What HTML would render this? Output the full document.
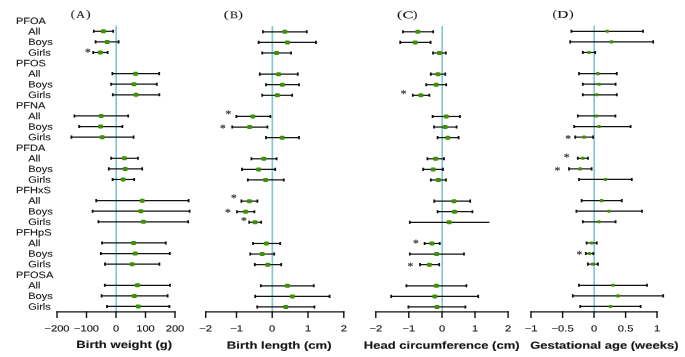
<!DOCTYPE html>
<html lang="en"><head><meta charset="utf-8"><title>Forest plot</title>
<style>html,body{margin:0;padding:0;background:#fff}svg{display:block;will-change:transform;opacity:.999}text{text-rendering:geometricPrecision}.s{font-family:"Liberation Sans",Arial,Helvetica,sans-serif;fill:#151515}.k{stroke:#151515;stroke-width:.11px}.r{font-family:"Liberation Serif","Times New Roman",serif;fill:#151515}</style></head><body>
<svg width="685" height="357" viewBox="0 0 685 357">
<rect width="685" height="357" fill="#fff"/>
<text class="s k" font-size="9.2" transform="translate(15.95,23.90) rotate(0.03) scale(1.2,1)">PFOA</text>
<text class="s k" font-size="9.2" transform="translate(28.15,34.48) rotate(0.03) scale(1.2,1)">All</text>
<text class="s k" font-size="9.2" transform="translate(28.15,45.07) rotate(0.03) scale(1.2,1)">Boys</text>
<text class="s k" font-size="9.2" transform="translate(28.15,55.65) rotate(0.03) scale(1.2,1)">Girls</text>
<text class="s k" font-size="9.2" transform="translate(15.95,66.23) rotate(0.03) scale(1.2,1)">PFOS</text>
<text class="s k" font-size="9.2" transform="translate(28.15,76.81) rotate(0.03) scale(1.2,1)">All</text>
<text class="s k" font-size="9.2" transform="translate(28.15,87.40) rotate(0.03) scale(1.2,1)">Boys</text>
<text class="s k" font-size="9.2" transform="translate(28.15,97.98) rotate(0.03) scale(1.2,1)">Girls</text>
<text class="s k" font-size="9.2" transform="translate(15.95,108.56) rotate(0.03) scale(1.2,1)">PFNA</text>
<text class="s k" font-size="9.2" transform="translate(28.15,119.15) rotate(0.03) scale(1.2,1)">All</text>
<text class="s k" font-size="9.2" transform="translate(28.15,129.73) rotate(0.03) scale(1.2,1)">Boys</text>
<text class="s k" font-size="9.2" transform="translate(28.15,140.31) rotate(0.03) scale(1.2,1)">Girls</text>
<text class="s k" font-size="9.2" transform="translate(15.95,150.90) rotate(0.03) scale(1.2,1)">PFDA</text>
<text class="s k" font-size="9.2" transform="translate(28.15,161.48) rotate(0.03) scale(1.2,1)">All</text>
<text class="s k" font-size="9.2" transform="translate(28.15,172.06) rotate(0.03) scale(1.2,1)">Boys</text>
<text class="s k" font-size="9.2" transform="translate(28.15,182.65) rotate(0.03) scale(1.2,1)">Girls</text>
<text class="s k" font-size="9.2" transform="translate(15.95,193.23) rotate(0.03) scale(1.2,1)">PFHxS</text>
<text class="s k" font-size="9.2" transform="translate(28.15,203.81) rotate(0.03) scale(1.2,1)">All</text>
<text class="s k" font-size="9.2" transform="translate(28.15,214.39) rotate(0.03) scale(1.2,1)">Boys</text>
<text class="s k" font-size="9.2" transform="translate(28.15,224.98) rotate(0.03) scale(1.2,1)">Girls</text>
<text class="s k" font-size="9.2" transform="translate(15.95,235.56) rotate(0.03) scale(1.2,1)">PFHpS</text>
<text class="s k" font-size="9.2" transform="translate(28.15,246.14) rotate(0.03) scale(1.2,1)">All</text>
<text class="s k" font-size="9.2" transform="translate(28.15,256.73) rotate(0.03) scale(1.2,1)">Boys</text>
<text class="s k" font-size="9.2" transform="translate(28.15,267.31) rotate(0.03) scale(1.2,1)">Girls</text>
<text class="s k" font-size="9.2" transform="translate(15.95,277.89) rotate(0.03) scale(1.2,1)">PFOSA</text>
<text class="s k" font-size="9.2" transform="translate(28.15,288.47) rotate(0.03) scale(1.2,1)">All</text>
<text class="s k" font-size="9.2" transform="translate(28.15,299.06) rotate(0.03) scale(1.2,1)">Boys</text>
<text class="s k" font-size="9.2" transform="translate(28.15,309.64) rotate(0.03) scale(1.2,1)">Girls</text>
<text class="r" font-size="10.80" stroke="#151515" stroke-width="0.08" transform="translate(70.69,17.51) rotate(0.03) scale(1.162,1)">(</text>
<text class="r" font-size="10.30" stroke="#151515" stroke-width="0.12" transform="translate(76.28,17.85) rotate(0.03) scale(1.156,1)">A</text>
<text class="r" font-size="10.80" stroke="#151515" stroke-width="0.08" transform="translate(85.90,17.51) rotate(0.03) scale(1.295,1)">)</text>
<text class="r" font-size="10.80" stroke="#151515" stroke-width="0.08" transform="translate(223.78,17.91) rotate(0.03) scale(1.380,1)">(</text>
<text class="r" font-size="10.34" stroke="#151515" stroke-width="0.12" transform="translate(229.94,18.22) rotate(0.03) scale(1.152,1)">B</text>
<text class="r" font-size="10.80" stroke="#151515" stroke-width="0.08" transform="translate(238.30,17.91) rotate(0.03) scale(1.295,1)">)</text>
<text class="r" font-size="10.80" stroke="#151515" stroke-width="0.08" transform="translate(397.06,17.91) rotate(0.03) scale(1.416,1)">(</text>
<text class="r" font-size="10.11" stroke="#151515" stroke-width="0.12" transform="translate(402.44,18.15) rotate(0.03) scale(1.641,1)">C</text>
<text class="r" font-size="10.80" stroke="#151515" stroke-width="0.08" transform="translate(413.12,17.91) rotate(0.03) scale(1.223,1)">)</text>
<text class="r" font-size="10.80" stroke="#151515" stroke-width="0.08" transform="translate(552.55,17.51) rotate(0.03) scale(1.235,1)">(</text>
<text class="r" font-size="10.34" stroke="#151515" stroke-width="0.12" transform="translate(557.24,17.82) rotate(0.03) scale(1.482,1)">D</text>
<text class="r" font-size="10.80" stroke="#151515" stroke-width="0.08" transform="translate(569.00,17.51) rotate(0.03) scale(1.295,1)">)</text>
<line x1="116.2" y1="25.5" x2="116.2" y2="311.8" stroke="#88c7d2" stroke-width="1.7"/>
<path d="M56.4 311.8H175.6" stroke="#111" stroke-width="1.3" fill="none"/>
<path d="M57.0 311.3V317.90000000000003M86.5 311.3V317.90000000000003M116.0 311.3V317.90000000000003M145.5 311.3V317.90000000000003M175.0 311.3V317.90000000000003" stroke="#111" stroke-width="1.4" fill="none"/>
<text class="s k" font-size="9.0" text-anchor="middle" transform="translate(57.0,331.4) rotate(0.03) scale(1.24,1)">−200</text>
<text class="s k" font-size="9.0" text-anchor="middle" transform="translate(86.5,331.4) rotate(0.03) scale(1.24,1)">−100</text>
<text class="s k" font-size="9.0" text-anchor="middle" transform="translate(116.0,331.4) rotate(0.03) scale(1.24,1)">0</text>
<text class="s k" font-size="9.0" text-anchor="middle" transform="translate(145.5,331.4) rotate(0.03) scale(1.24,1)">100</text>
<text class="s k" font-size="9.0" text-anchor="middle" transform="translate(175.0,331.4) rotate(0.03) scale(1.24,1)">200</text>
<text class="s" font-size="10.4" font-weight="bold" stroke="#151515" stroke-width="0.12" transform="translate(76.37,347.90) rotate(0.03) scale(1.257,1)">Birth weight (g)</text>
<path d="M93.8 31.30H113.2" stroke="#111" stroke-width="1.2" fill="none"/>
<path d="M93.80 29.75V32.85M113.20 29.75V32.85" stroke="#111" stroke-width="1.8" fill="none"/>
<rect x="100.95" y="29.30" width="4.9" height="4.0" rx="1.0" fill="#3d9305"/>
<path d="M95.6 41.88H118.6" stroke="#111" stroke-width="1.2" fill="none"/>
<path d="M95.60 40.33V43.43M118.60 40.33V43.43" stroke="#111" stroke-width="1.8" fill="none"/>
<rect x="104.75" y="39.88" width="4.9" height="4.0" rx="1.0" fill="#3d9305"/>
<path d="M93.2 52.47H107.6" stroke="#111" stroke-width="1.2" fill="none"/>
<path d="M93.20 50.92V54.02M107.60 50.92V54.02" stroke="#111" stroke-width="1.8" fill="none"/>
<rect x="97.95" y="50.47" width="4.9" height="4.0" rx="1.0" fill="#3d9305"/>
<path d="M112.4 73.63H159.2" stroke="#111" stroke-width="1.2" fill="none"/>
<path d="M112.40 72.08V75.18M159.20 72.08V75.18" stroke="#111" stroke-width="1.8" fill="none"/>
<rect x="133.15" y="71.63" width="4.9" height="4.0" rx="1.0" fill="#3d9305"/>
<path d="M111.2 84.22H156.8" stroke="#111" stroke-width="1.2" fill="none"/>
<path d="M111.20 82.67V85.77M156.80 82.67V85.77" stroke="#111" stroke-width="1.8" fill="none"/>
<rect x="131.55" y="82.22" width="4.9" height="4.0" rx="1.0" fill="#3d9305"/>
<path d="M112.8 94.80H159.4" stroke="#111" stroke-width="1.2" fill="none"/>
<path d="M112.80 93.25V96.35M159.40 93.25V96.35" stroke="#111" stroke-width="1.8" fill="none"/>
<rect x="133.55" y="92.80" width="4.9" height="4.0" rx="1.0" fill="#3d9305"/>
<path d="M74.4 115.96H128.2" stroke="#111" stroke-width="1.2" fill="none"/>
<path d="M74.40 114.41V117.51M128.20 114.41V117.51" stroke="#111" stroke-width="1.8" fill="none"/>
<rect x="98.75" y="113.96" width="4.9" height="4.0" rx="1.0" fill="#3d9305"/>
<path d="M79.2 126.55H122.4" stroke="#111" stroke-width="1.2" fill="none"/>
<path d="M79.20 125.00V128.10M122.40 125.00V128.10" stroke="#111" stroke-width="1.8" fill="none"/>
<rect x="98.15" y="124.55" width="4.9" height="4.0" rx="1.0" fill="#3d9305"/>
<path d="M71.4 137.13H133.6" stroke="#111" stroke-width="1.2" fill="none"/>
<path d="M71.40 135.58V138.68M133.60 135.58V138.68" stroke="#111" stroke-width="1.8" fill="none"/>
<rect x="99.75" y="135.13" width="4.9" height="4.0" rx="1.0" fill="#3d9305"/>
<path d="M111.2 158.30H138.0" stroke="#111" stroke-width="1.2" fill="none"/>
<path d="M111.20 156.75V159.85M138.00 156.75V159.85" stroke="#111" stroke-width="1.8" fill="none"/>
<rect x="121.95" y="156.30" width="4.9" height="4.0" rx="1.0" fill="#3d9305"/>
<path d="M108.8 168.88H142.2" stroke="#111" stroke-width="1.2" fill="none"/>
<path d="M108.80 167.33V170.43M142.20 167.33V170.43" stroke="#111" stroke-width="1.8" fill="none"/>
<rect x="122.75" y="166.88" width="4.9" height="4.0" rx="1.0" fill="#3d9305"/>
<path d="M112.6 179.46H134.2" stroke="#111" stroke-width="1.2" fill="none"/>
<path d="M112.60 177.91V181.01M134.20 177.91V181.01" stroke="#111" stroke-width="1.8" fill="none"/>
<rect x="120.75" y="177.46" width="4.9" height="4.0" rx="1.0" fill="#3d9305"/>
<path d="M96.2 200.63H188.6" stroke="#111" stroke-width="1.2" fill="none"/>
<path d="M96.20 199.08V202.18M188.60 199.08V202.18" stroke="#111" stroke-width="1.8" fill="none"/>
<rect x="139.75" y="198.63" width="4.9" height="4.0" rx="1.0" fill="#3d9305"/>
<path d="M92.6 211.21H189.6" stroke="#111" stroke-width="1.2" fill="none"/>
<path d="M92.60 209.66V212.76M189.60 209.66V212.76" stroke="#111" stroke-width="1.8" fill="none"/>
<rect x="138.35" y="209.21" width="4.9" height="4.0" rx="1.0" fill="#3d9305"/>
<path d="M98.4 221.79H188.2" stroke="#111" stroke-width="1.2" fill="none"/>
<path d="M98.40 220.24V223.34M188.20 220.24V223.34" stroke="#111" stroke-width="1.8" fill="none"/>
<rect x="140.95" y="219.79" width="4.9" height="4.0" rx="1.0" fill="#3d9305"/>
<path d="M102.0 242.96H165.8" stroke="#111" stroke-width="1.2" fill="none"/>
<path d="M102.00 241.41V244.51M165.80 241.41V244.51" stroke="#111" stroke-width="1.8" fill="none"/>
<rect x="131.15" y="240.96" width="4.9" height="4.0" rx="1.0" fill="#3d9305"/>
<path d="M100.8 253.54H169.8" stroke="#111" stroke-width="1.2" fill="none"/>
<path d="M100.80 251.99V255.09M169.80 251.99V255.09" stroke="#111" stroke-width="1.8" fill="none"/>
<rect x="132.75" y="251.54" width="4.9" height="4.0" rx="1.0" fill="#3d9305"/>
<path d="M105.0 264.13H159.4" stroke="#111" stroke-width="1.2" fill="none"/>
<path d="M105.00 262.58V265.68M159.40 262.58V265.68" stroke="#111" stroke-width="1.8" fill="none"/>
<rect x="129.75" y="262.13" width="4.9" height="4.0" rx="1.0" fill="#3d9305"/>
<path d="M104.8 285.29H170.0" stroke="#111" stroke-width="1.2" fill="none"/>
<path d="M104.80 283.74V286.84M170.00 283.74V286.84" stroke="#111" stroke-width="1.8" fill="none"/>
<rect x="134.95" y="283.29" width="4.9" height="4.0" rx="1.0" fill="#3d9305"/>
<path d="M101.6 295.88H167.6" stroke="#111" stroke-width="1.2" fill="none"/>
<path d="M101.60 294.32V297.43M167.60 294.32V297.43" stroke="#111" stroke-width="1.8" fill="none"/>
<rect x="131.95" y="293.88" width="4.9" height="4.0" rx="1.0" fill="#3d9305"/>
<path d="M107.0 306.46H169.4" stroke="#111" stroke-width="1.2" fill="none"/>
<path d="M107.00 304.91V308.01M169.40 304.91V308.01" stroke="#111" stroke-width="1.8" fill="none"/>
<rect x="135.75" y="304.46" width="4.9" height="4.0" rx="1.0" fill="#3d9305"/>
<line x1="272.35" y1="26.1" x2="272.35" y2="311.8" stroke="#88c7d2" stroke-width="1.7"/>
<path d="M205.1 311.8H344.40000000000003" stroke="#111" stroke-width="1.3" fill="none"/>
<path d="M205.7 311.3V317.90000000000003M236.5 311.3V317.90000000000003M272.2 311.3V317.90000000000003M308.0 311.3V317.90000000000003M343.8 311.3V317.90000000000003" stroke="#111" stroke-width="1.4" fill="none"/>
<text class="s k" font-size="9.0" text-anchor="middle" transform="translate(205.7,331.4) rotate(0.03) scale(1.24,1)">−2</text>
<text class="s k" font-size="9.0" text-anchor="middle" transform="translate(236.5,331.4) rotate(0.03) scale(1.24,1)">−1</text>
<text class="s k" font-size="9.0" text-anchor="middle" transform="translate(272.2,331.4) rotate(0.03) scale(1.24,1)">0</text>
<text class="s k" font-size="9.0" text-anchor="middle" transform="translate(308.0,331.4) rotate(0.03) scale(1.24,1)">1</text>
<text class="s k" font-size="9.0" text-anchor="middle" transform="translate(343.8,331.4) rotate(0.03) scale(1.24,1)">2</text>
<text class="s" font-size="10.4" font-weight="bold" stroke="#151515" stroke-width="0.12" transform="translate(226.87,348.70) rotate(0.03) scale(1.260,1)">Birth length (cm)</text>
<path d="M263.0 31.80H306.8" stroke="#111" stroke-width="1.2" fill="none"/>
<path d="M263.00 30.25V33.35M306.80 30.25V33.35" stroke="#111" stroke-width="1.8" fill="none"/>
<rect x="282.35" y="29.80" width="4.9" height="4.0" rx="1.0" fill="#3d9305"/>
<path d="M258.6 42.38H316.0" stroke="#111" stroke-width="1.2" fill="none"/>
<path d="M258.60 40.83V43.93M316.00 40.83V43.93" stroke="#111" stroke-width="1.8" fill="none"/>
<rect x="284.95" y="40.38" width="4.9" height="4.0" rx="1.0" fill="#3d9305"/>
<path d="M262.2 52.97H291.0" stroke="#111" stroke-width="1.2" fill="none"/>
<path d="M262.20 51.42V54.52M291.00 51.42V54.52" stroke="#111" stroke-width="1.8" fill="none"/>
<rect x="274.15" y="50.97" width="4.9" height="4.0" rx="1.0" fill="#3d9305"/>
<path d="M259.8 74.13H297.8" stroke="#111" stroke-width="1.2" fill="none"/>
<path d="M259.80 72.58V75.68M297.80 72.58V75.68" stroke="#111" stroke-width="1.8" fill="none"/>
<rect x="276.15" y="72.13" width="4.9" height="4.0" rx="1.0" fill="#3d9305"/>
<path d="M266.0 84.72H299.0" stroke="#111" stroke-width="1.2" fill="none"/>
<path d="M266.00 83.17V86.27M299.00 83.17V86.27" stroke="#111" stroke-width="1.8" fill="none"/>
<rect x="279.95" y="82.72" width="4.9" height="4.0" rx="1.0" fill="#3d9305"/>
<path d="M262.2 95.30H292.2" stroke="#111" stroke-width="1.2" fill="none"/>
<path d="M262.20 93.75V96.85M292.20 93.75V96.85" stroke="#111" stroke-width="1.8" fill="none"/>
<rect x="274.95" y="93.30" width="4.9" height="4.0" rx="1.0" fill="#3d9305"/>
<path d="M236.4 116.46H270.4" stroke="#111" stroke-width="1.2" fill="none"/>
<path d="M236.40 114.91V118.01M270.40 114.91V118.01" stroke="#111" stroke-width="1.8" fill="none"/>
<rect x="250.35" y="114.46" width="4.9" height="4.0" rx="1.0" fill="#3d9305"/>
<path d="M232.2 127.05H267.4" stroke="#111" stroke-width="1.2" fill="none"/>
<path d="M232.20 125.50V128.60M267.40 125.50V128.60" stroke="#111" stroke-width="1.8" fill="none"/>
<rect x="247.15" y="125.05" width="4.9" height="4.0" rx="1.0" fill="#3d9305"/>
<path d="M266.0 137.63H299.0" stroke="#111" stroke-width="1.2" fill="none"/>
<path d="M266.00 136.08V139.18M299.00 136.08V139.18" stroke="#111" stroke-width="1.8" fill="none"/>
<rect x="279.75" y="135.63" width="4.9" height="4.0" rx="1.0" fill="#3d9305"/>
<path d="M251.4 158.80H276.6" stroke="#111" stroke-width="1.2" fill="none"/>
<path d="M251.40 157.25V160.35M276.60 157.25V160.35" stroke="#111" stroke-width="1.8" fill="none"/>
<rect x="261.35" y="156.80" width="4.9" height="4.0" rx="1.0" fill="#3d9305"/>
<path d="M242.0 169.38H275.2" stroke="#111" stroke-width="1.2" fill="none"/>
<path d="M242.00 167.83V170.93M275.20 167.83V170.93" stroke="#111" stroke-width="1.8" fill="none"/>
<rect x="256.15" y="167.38" width="4.9" height="4.0" rx="1.0" fill="#3d9305"/>
<path d="M247.8 179.96H283.8" stroke="#111" stroke-width="1.2" fill="none"/>
<path d="M247.80 178.41V181.51M283.80 178.41V181.51" stroke="#111" stroke-width="1.8" fill="none"/>
<rect x="263.15" y="177.96" width="4.9" height="4.0" rx="1.0" fill="#3d9305"/>
<path d="M241.4 201.13H257.4" stroke="#111" stroke-width="1.2" fill="none"/>
<path d="M241.40 199.58V202.68M257.40 199.58V202.68" stroke="#111" stroke-width="1.8" fill="none"/>
<rect x="246.95" y="199.13" width="4.9" height="4.0" rx="1.0" fill="#3d9305"/>
<path d="M237.0 211.71H254.4" stroke="#111" stroke-width="1.2" fill="none"/>
<path d="M237.00 210.16V213.26M254.40 210.16V213.26" stroke="#111" stroke-width="1.8" fill="none"/>
<rect x="243.15" y="209.71" width="4.9" height="4.0" rx="1.0" fill="#3d9305"/>
<path d="M249.2 222.29H261.2" stroke="#111" stroke-width="1.2" fill="none"/>
<path d="M249.20 220.74V223.84M261.20 220.74V223.84" stroke="#111" stroke-width="1.8" fill="none"/>
<rect x="252.55" y="220.29" width="4.9" height="4.0" rx="1.0" fill="#3d9305"/>
<path d="M253.0 243.46H280.2" stroke="#111" stroke-width="1.2" fill="none"/>
<path d="M253.00 241.91V245.01M280.20 241.91V245.01" stroke="#111" stroke-width="1.8" fill="none"/>
<rect x="263.95" y="241.46" width="4.9" height="4.0" rx="1.0" fill="#3d9305"/>
<path d="M250.2 254.04H274.2" stroke="#111" stroke-width="1.2" fill="none"/>
<path d="M250.20 252.49V255.59M274.20 252.49V255.59" stroke="#111" stroke-width="1.8" fill="none"/>
<rect x="259.75" y="252.04" width="4.9" height="4.0" rx="1.0" fill="#3d9305"/>
<path d="M254.8 264.63H281.2" stroke="#111" stroke-width="1.2" fill="none"/>
<path d="M254.80 263.08V266.18M281.20 263.08V266.18" stroke="#111" stroke-width="1.8" fill="none"/>
<rect x="265.35" y="262.63" width="4.9" height="4.0" rx="1.0" fill="#3d9305"/>
<path d="M260.8 285.79H313.8" stroke="#111" stroke-width="1.2" fill="none"/>
<path d="M260.80 284.24V287.34M313.80 284.24V287.34" stroke="#111" stroke-width="1.8" fill="none"/>
<rect x="284.95" y="283.79" width="4.9" height="4.0" rx="1.0" fill="#3d9305"/>
<path d="M255.2 296.38H329.6" stroke="#111" stroke-width="1.2" fill="none"/>
<path d="M255.20 294.82V297.93M329.60 294.82V297.93" stroke="#111" stroke-width="1.8" fill="none"/>
<rect x="289.95" y="294.38" width="4.9" height="4.0" rx="1.0" fill="#3d9305"/>
<path d="M257.2 306.96H314.4" stroke="#111" stroke-width="1.2" fill="none"/>
<path d="M257.20 305.41V308.51M314.40 305.41V308.51" stroke="#111" stroke-width="1.8" fill="none"/>
<rect x="283.35" y="304.96" width="4.9" height="4.0" rx="1.0" fill="#3d9305"/>
<line x1="442.2" y1="26.1" x2="442.2" y2="311.8" stroke="#88c7d2" stroke-width="1.7"/>
<path d="M375.2 311.8H508.70000000000005" stroke="#111" stroke-width="1.3" fill="none"/>
<path d="M375.8 311.3V317.90000000000003M408.8 311.3V317.90000000000003M442.0 311.3V317.90000000000003M475.0 311.3V317.90000000000003M508.1 311.3V317.90000000000003" stroke="#111" stroke-width="1.4" fill="none"/>
<text class="s k" font-size="9.0" text-anchor="middle" transform="translate(375.8,331.4) rotate(0.03) scale(1.24,1)">−2</text>
<text class="s k" font-size="9.0" text-anchor="middle" transform="translate(408.8,331.4) rotate(0.03) scale(1.24,1)">−1</text>
<text class="s k" font-size="9.0" text-anchor="middle" transform="translate(442.0,331.4) rotate(0.03) scale(1.24,1)">0</text>
<text class="s k" font-size="9.0" text-anchor="middle" transform="translate(475.0,331.4) rotate(0.03) scale(1.24,1)">1</text>
<text class="s k" font-size="9.0" text-anchor="middle" transform="translate(508.1,331.4) rotate(0.03) scale(1.24,1)">2</text>
<text class="s" font-size="10.4" font-weight="bold" stroke="#151515" stroke-width="0.12" transform="translate(363.87,348.70) rotate(0.03) scale(1.254,1)">Head circumference (cm)</text>
<path d="M403.0 31.80H433.2" stroke="#111" stroke-width="1.2" fill="none"/>
<path d="M403.00 30.25V33.35M433.20 30.25V33.35" stroke="#111" stroke-width="1.8" fill="none"/>
<rect x="415.35" y="29.80" width="4.9" height="4.0" rx="1.0" fill="#3d9305"/>
<path d="M400.2 42.38H430.6" stroke="#111" stroke-width="1.2" fill="none"/>
<path d="M400.20 40.83V43.93M430.60 40.83V43.93" stroke="#111" stroke-width="1.8" fill="none"/>
<rect x="412.75" y="40.38" width="4.9" height="4.0" rx="1.0" fill="#3d9305"/>
<path d="M433.0 52.97H445.8" stroke="#111" stroke-width="1.2" fill="none"/>
<path d="M433.00 51.42V54.52M445.80 51.42V54.52" stroke="#111" stroke-width="1.8" fill="none"/>
<rect x="436.95" y="50.97" width="4.9" height="4.0" rx="1.0" fill="#3d9305"/>
<path d="M430.8 74.13H445.2" stroke="#111" stroke-width="1.2" fill="none"/>
<path d="M430.80 72.58V75.68M445.20 72.58V75.68" stroke="#111" stroke-width="1.8" fill="none"/>
<rect x="435.55" y="72.13" width="4.9" height="4.0" rx="1.0" fill="#3d9305"/>
<path d="M426.2 84.72H446.2" stroke="#111" stroke-width="1.2" fill="none"/>
<path d="M426.20 83.17V86.27M446.20 83.17V86.27" stroke="#111" stroke-width="1.8" fill="none"/>
<rect x="433.75" y="82.72" width="4.9" height="4.0" rx="1.0" fill="#3d9305"/>
<path d="M412.8 95.30H429.4" stroke="#111" stroke-width="1.2" fill="none"/>
<path d="M412.80 93.75V96.85M429.40 93.75V96.85" stroke="#111" stroke-width="1.8" fill="none"/>
<rect x="418.35" y="93.30" width="4.9" height="4.0" rx="1.0" fill="#3d9305"/>
<path d="M432.6 116.46H460.0" stroke="#111" stroke-width="1.2" fill="none"/>
<path d="M432.60 114.91V118.01M460.00 114.91V118.01" stroke="#111" stroke-width="1.8" fill="none"/>
<rect x="443.75" y="114.46" width="4.9" height="4.0" rx="1.0" fill="#3d9305"/>
<path d="M434.0 127.05H456.6" stroke="#111" stroke-width="1.2" fill="none"/>
<path d="M434.00 125.50V128.60M456.60 125.50V128.60" stroke="#111" stroke-width="1.8" fill="none"/>
<rect x="442.75" y="125.05" width="4.9" height="4.0" rx="1.0" fill="#3d9305"/>
<path d="M437.6 137.63H458.6" stroke="#111" stroke-width="1.2" fill="none"/>
<path d="M437.60 136.08V139.18M458.60 136.08V139.18" stroke="#111" stroke-width="1.8" fill="none"/>
<rect x="445.35" y="135.63" width="4.9" height="4.0" rx="1.0" fill="#3d9305"/>
<path d="M427.4 158.80H444.0" stroke="#111" stroke-width="1.2" fill="none"/>
<path d="M427.40 157.25V160.35M444.00 157.25V160.35" stroke="#111" stroke-width="1.8" fill="none"/>
<rect x="433.15" y="156.80" width="4.9" height="4.0" rx="1.0" fill="#3d9305"/>
<path d="M423.2 169.38H443.0" stroke="#111" stroke-width="1.2" fill="none"/>
<path d="M423.20 167.83V170.93M443.00 167.83V170.93" stroke="#111" stroke-width="1.8" fill="none"/>
<rect x="430.75" y="167.38" width="4.9" height="4.0" rx="1.0" fill="#3d9305"/>
<path d="M430.8 179.96H446.0" stroke="#111" stroke-width="1.2" fill="none"/>
<path d="M430.80 178.41V181.51M446.00 178.41V181.51" stroke="#111" stroke-width="1.8" fill="none"/>
<rect x="435.95" y="177.96" width="4.9" height="4.0" rx="1.0" fill="#3d9305"/>
<path d="M434.2 201.13H470.2" stroke="#111" stroke-width="1.2" fill="none"/>
<path d="M434.20 199.58V202.68M470.20 199.58V202.68" stroke="#111" stroke-width="1.8" fill="none"/>
<rect x="451.55" y="199.13" width="4.9" height="4.0" rx="1.0" fill="#3d9305"/>
<path d="M437.6 211.71H472.4" stroke="#111" stroke-width="1.2" fill="none"/>
<path d="M437.60 210.16V213.26M472.40 210.16V213.26" stroke="#111" stroke-width="1.8" fill="none"/>
<rect x="452.15" y="209.71" width="4.9" height="4.0" rx="1.0" fill="#3d9305"/>
<path d="M409.8 222.29H489.4" stroke="#111" stroke-width="1.2" fill="none"/>
<path d="M409.80 220.74V223.84" stroke="#111" stroke-width="1.8" fill="none"/>
<rect x="446.75" y="220.29" width="4.9" height="4.0" rx="1.0" fill="#3d9305"/>
<path d="M424.6 243.46H439.8" stroke="#111" stroke-width="1.2" fill="none"/>
<path d="M424.60 241.91V245.01M439.80 241.91V245.01" stroke="#111" stroke-width="1.8" fill="none"/>
<rect x="429.55" y="241.46" width="4.9" height="4.0" rx="1.0" fill="#3d9305"/>
<path d="M409.8 254.04H464.0" stroke="#111" stroke-width="1.2" fill="none"/>
<path d="M409.80 252.49V255.59M464.00 252.49V255.59" stroke="#111" stroke-width="1.8" fill="none"/>
<rect x="434.15" y="252.04" width="4.9" height="4.0" rx="1.0" fill="#3d9305"/>
<path d="M420.0 264.63H439.2" stroke="#111" stroke-width="1.2" fill="none"/>
<path d="M420.00 263.08V266.18M439.20 263.08V266.18" stroke="#111" stroke-width="1.8" fill="none"/>
<rect x="426.95" y="262.63" width="4.9" height="4.0" rx="1.0" fill="#3d9305"/>
<path d="M406.4 285.79H466.4" stroke="#111" stroke-width="1.2" fill="none"/>
<path d="M406.40 284.24V287.34M466.40 284.24V287.34" stroke="#111" stroke-width="1.8" fill="none"/>
<rect x="433.95" y="283.79" width="4.9" height="4.0" rx="1.0" fill="#3d9305"/>
<path d="M391.2 296.38H478.2" stroke="#111" stroke-width="1.2" fill="none"/>
<path d="M391.20 294.82V297.93M478.20 294.82V297.93" stroke="#111" stroke-width="1.8" fill="none"/>
<rect x="432.35" y="294.38" width="4.9" height="4.0" rx="1.0" fill="#3d9305"/>
<path d="M408.4 306.96H465.4" stroke="#111" stroke-width="1.2" fill="none"/>
<path d="M408.40 305.41V308.51M465.40 305.41V308.51" stroke="#111" stroke-width="1.8" fill="none"/>
<rect x="434.55" y="304.96" width="4.9" height="4.0" rx="1.0" fill="#3d9305"/>
<line x1="594.2" y1="25.5" x2="594.2" y2="311.8" stroke="#88c7d2" stroke-width="1.7"/>
<path d="M530.4 311.8H657.6" stroke="#111" stroke-width="1.3" fill="none"/>
<path d="M531.0 311.3V317.90000000000003M562.6 311.3V317.90000000000003M594.0 311.3V317.90000000000003M625.6 311.3V317.90000000000003M657.0 311.3V317.90000000000003" stroke="#111" stroke-width="1.4" fill="none"/>
<text class="s k" font-size="9.0" text-anchor="middle" transform="translate(531.0,331.4) rotate(0.03) scale(1.24,1)">−1</text>
<text class="s k" font-size="9.0" text-anchor="middle" transform="translate(562.6,331.4) rotate(0.03) scale(1.24,1)">−0.5</text>
<text class="s k" font-size="9.0" text-anchor="middle" transform="translate(594.0,331.4) rotate(0.03) scale(1.24,1)">0</text>
<text class="s k" font-size="9.0" text-anchor="middle" transform="translate(625.6,331.4) rotate(0.03) scale(1.24,1)">0.5</text>
<text class="s k" font-size="9.0" text-anchor="middle" transform="translate(657.0,331.4) rotate(0.03) scale(1.24,1)">1</text>
<text class="s" font-size="10.4" font-weight="bold" stroke="#151515" stroke-width="0.12" transform="translate(530.13,348.70) rotate(0.03) scale(1.254,1)">Gestational age (weeks)</text>
<path d="M571.4 31.30H643.0" stroke="#111" stroke-width="1.2" fill="none"/>
<path d="M571.40 29.75V32.85M643.00 29.75V32.85" stroke="#111" stroke-width="1.8" fill="none"/>
<rect x="605.40" y="29.75" width="3.6" height="3.1" rx="1.0" fill="#3d9305"/>
<path d="M570.2 41.88H653.2" stroke="#111" stroke-width="1.2" fill="none"/>
<path d="M570.20 40.33V43.43M653.20 40.33V43.43" stroke="#111" stroke-width="1.8" fill="none"/>
<rect x="609.80" y="40.33" width="3.6" height="3.1" rx="1.0" fill="#3d9305"/>
<path d="M582.8 52.47H595.2" stroke="#111" stroke-width="1.2" fill="none"/>
<path d="M582.80 50.92V54.02M595.20 50.92V54.02" stroke="#111" stroke-width="1.8" fill="none"/>
<rect x="587.20" y="50.92" width="3.6" height="3.1" rx="1.0" fill="#3d9305"/>
<path d="M579.0 73.63H616.8" stroke="#111" stroke-width="1.2" fill="none"/>
<path d="M579.00 72.08V75.18M616.80 72.08V75.18" stroke="#111" stroke-width="1.8" fill="none"/>
<rect x="596.00" y="72.08" width="3.6" height="3.1" rx="1.0" fill="#3d9305"/>
<path d="M582.8 84.22H615.6" stroke="#111" stroke-width="1.2" fill="none"/>
<path d="M582.80 82.67V85.77M615.60 82.67V85.77" stroke="#111" stroke-width="1.8" fill="none"/>
<rect x="597.40" y="82.67" width="3.6" height="3.1" rx="1.0" fill="#3d9305"/>
<path d="M582.8 94.80H616.8" stroke="#111" stroke-width="1.2" fill="none"/>
<path d="M582.80 93.25V96.35M616.80 93.25V96.35" stroke="#111" stroke-width="1.8" fill="none"/>
<rect x="595.00" y="93.25" width="3.6" height="3.1" rx="1.0" fill="#3d9305"/>
<path d="M577.8 115.96H615.4" stroke="#111" stroke-width="1.2" fill="none"/>
<path d="M577.80 114.41V117.51M615.40 114.41V117.51" stroke="#111" stroke-width="1.8" fill="none"/>
<rect x="594.80" y="114.41" width="3.6" height="3.1" rx="1.0" fill="#3d9305"/>
<path d="M574.2 126.55H630.6" stroke="#111" stroke-width="1.2" fill="none"/>
<path d="M574.20 125.00V128.10M630.60 125.00V128.10" stroke="#111" stroke-width="1.8" fill="none"/>
<rect x="597.20" y="125.00" width="3.6" height="3.1" rx="1.0" fill="#3d9305"/>
<path d="M575.2 137.13H593.0" stroke="#111" stroke-width="1.2" fill="none"/>
<path d="M575.20 135.58V138.68M593.00 135.58V138.68" stroke="#111" stroke-width="1.8" fill="none"/>
<rect x="582.20" y="135.58" width="3.6" height="3.1" rx="1.0" fill="#3d9305"/>
<path d="M577.8 158.30H588.0" stroke="#111" stroke-width="1.2" fill="none"/>
<path d="M577.80 156.75V159.85M588.00 156.75V159.85" stroke="#111" stroke-width="1.8" fill="none"/>
<rect x="581.00" y="156.75" width="3.6" height="3.1" rx="1.0" fill="#3d9305"/>
<path d="M569.0 168.88H591.6" stroke="#111" stroke-width="1.2" fill="none"/>
<path d="M569.00 167.33V170.43M591.60 167.33V170.43" stroke="#111" stroke-width="1.8" fill="none"/>
<rect x="578.40" y="167.33" width="3.6" height="3.1" rx="1.0" fill="#3d9305"/>
<path d="M579.0 179.46H631.8" stroke="#111" stroke-width="1.2" fill="none"/>
<path d="M579.00 177.91V181.01M631.80 177.91V181.01" stroke="#111" stroke-width="1.8" fill="none"/>
<rect x="603.60" y="177.91" width="3.6" height="3.1" rx="1.0" fill="#3d9305"/>
<path d="M581.6 200.63H621.8" stroke="#111" stroke-width="1.2" fill="none"/>
<path d="M581.60 199.08V202.18M621.80 199.08V202.18" stroke="#111" stroke-width="1.8" fill="none"/>
<rect x="599.80" y="199.08" width="3.6" height="3.1" rx="1.0" fill="#3d9305"/>
<path d="M576.4 211.21H642.0" stroke="#111" stroke-width="1.2" fill="none"/>
<path d="M576.40 209.66V212.76M642.00 209.66V212.76" stroke="#111" stroke-width="1.8" fill="none"/>
<rect x="607.20" y="209.66" width="3.6" height="3.1" rx="1.0" fill="#3d9305"/>
<path d="M582.8 221.79H615.6" stroke="#111" stroke-width="1.2" fill="none"/>
<path d="M582.80 220.24V223.34M615.60 220.24V223.34" stroke="#111" stroke-width="1.8" fill="none"/>
<rect x="597.20" y="220.24" width="3.6" height="3.1" rx="1.0" fill="#3d9305"/>
<path d="M586.6 242.96H596.8" stroke="#111" stroke-width="1.2" fill="none"/>
<path d="M586.60 241.41V244.51M596.80 241.41V244.51" stroke="#111" stroke-width="1.8" fill="none"/>
<rect x="589.80" y="241.41" width="3.6" height="3.1" rx="1.0" fill="#3d9305"/>
<path d="M585.8 253.54H593.4" stroke="#111" stroke-width="1.2" fill="none"/>
<path d="M585.80 251.99V255.09M593.40 251.99V255.09" stroke="#111" stroke-width="1.8" fill="none"/>
<rect x="587.60" y="251.99" width="3.6" height="3.1" rx="1.0" fill="#3d9305"/>
<path d="M587.8 264.13H598.0" stroke="#111" stroke-width="1.2" fill="none"/>
<path d="M587.80 262.58V265.68M598.00 262.58V265.68" stroke="#111" stroke-width="1.8" fill="none"/>
<rect x="591.00" y="262.58" width="3.6" height="3.1" rx="1.0" fill="#3d9305"/>
<path d="M579.0 285.29H647.0" stroke="#111" stroke-width="1.2" fill="none"/>
<path d="M579.00 283.74V286.84M647.00 283.74V286.84" stroke="#111" stroke-width="1.8" fill="none"/>
<rect x="611.20" y="283.74" width="3.6" height="3.1" rx="1.0" fill="#3d9305"/>
<path d="M572.8 295.88H663.2" stroke="#111" stroke-width="1.2" fill="none"/>
<path d="M572.80 294.32V297.43M663.20 294.32V297.43" stroke="#111" stroke-width="1.8" fill="none"/>
<rect x="616.20" y="294.32" width="3.6" height="3.1" rx="1.0" fill="#3d9305"/>
<path d="M580.2 306.46H640.6" stroke="#111" stroke-width="1.2" fill="none"/>
<path d="M580.20 304.91V308.01M640.60 304.91V308.01" stroke="#111" stroke-width="1.8" fill="none"/>
<rect x="608.60" y="304.91" width="3.6" height="3.1" rx="1.0" fill="#3d9305"/>
<text class="r" font-size="10.88" style="fill:#3c3c3c" stroke="#3c3c3c" stroke-width="0.2" transform="translate(85.12,55.73) rotate(0.03) scale(1.057,1)">*</text>
<text class="r" font-size="10.88" style="fill:#3c3c3c" stroke="#3c3c3c" stroke-width="0.2" transform="translate(225.52,117.53) rotate(0.03) scale(1.057,1)">*</text>
<text class="r" font-size="10.88" style="fill:#3c3c3c" stroke="#3c3c3c" stroke-width="0.2" transform="translate(220.12,131.73) rotate(0.03) scale(1.057,1)">*</text>
<text class="r" font-size="10.88" style="fill:#3c3c3c" stroke="#3c3c3c" stroke-width="0.2" transform="translate(230.93,201.53) rotate(0.03) scale(1.057,1)">*</text>
<text class="r" font-size="10.88" style="fill:#3c3c3c" stroke="#3c3c3c" stroke-width="0.2" transform="translate(224.93,215.93) rotate(0.03) scale(1.057,1)">*</text>
<text class="r" font-size="10.88" style="fill:#3c3c3c" stroke="#3c3c3c" stroke-width="0.2" transform="translate(241.12,224.33) rotate(0.03) scale(1.057,1)">*</text>
<text class="r" font-size="10.88" style="fill:#3c3c3c" stroke="#3c3c3c" stroke-width="0.2" transform="translate(400.73,97.13) rotate(0.03) scale(1.057,1)">*</text>
<text class="r" font-size="10.88" style="fill:#3c3c3c" stroke="#3c3c3c" stroke-width="0.2" transform="translate(412.93,246.73) rotate(0.03) scale(1.057,1)">*</text>
<text class="r" font-size="10.88" style="fill:#3c3c3c" stroke="#3c3c3c" stroke-width="0.2" transform="translate(407.52,269.73) rotate(0.03) scale(1.057,1)">*</text>
<text class="r" font-size="10.88" style="fill:#3c3c3c" stroke="#3c3c3c" stroke-width="0.2" transform="translate(565.33,142.13) rotate(0.03) scale(1.057,1)">*</text>
<text class="r" font-size="10.88" style="fill:#3c3c3c" stroke="#3c3c3c" stroke-width="0.2" transform="translate(563.73,160.73) rotate(0.03) scale(1.057,1)">*</text>
<text class="r" font-size="10.88" style="fill:#3c3c3c" stroke="#3c3c3c" stroke-width="0.2" transform="translate(554.53,173.93) rotate(0.03) scale(1.057,1)">*</text>
<text class="r" font-size="10.88" style="fill:#3c3c3c" stroke="#3c3c3c" stroke-width="0.2" transform="translate(576.53,257.93) rotate(0.03) scale(1.057,1)">*</text>
</svg></body></html>
